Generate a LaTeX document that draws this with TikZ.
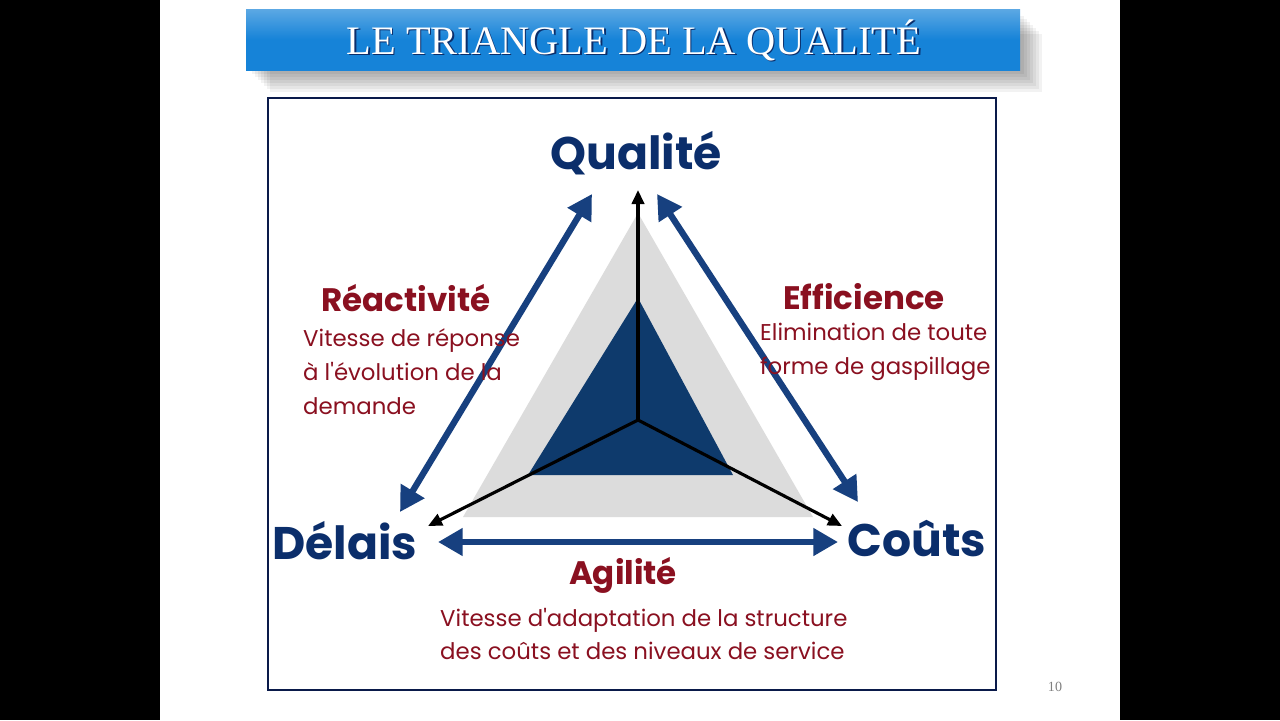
\documentclass[tikz,border=0pt]{standalone}
\usepackage{fontspec}
\setmainfont{Liberation Serif}
\newfontfamily\labelfont{Poppins}
\usetikzlibrary{arrows.meta,shadows}

\definecolor{navy}{HTML}{0B2E6B}
\definecolor{arrowblue}{HTML}{17407F}
\definecolor{wine}{HTML}{8A1020}
\definecolor{banner}{HTML}{1683D8}
\definecolor{lightgrey}{HTML}{DCDCDC}
\definecolor{corenavy}{HTML}{0E3A6C}
\definecolor{framenavy}{HTML}{0A1A4A}

\tikzset{
  corner/.style={font=\labelfont\bfseries\fontsize{26}{26}\selectfont, text=navy},
  head/.style={font=\labelfont\bfseries\fontsize{18.5}{18.5}\selectfont, text=wine},
  body/.style={font=\labelfont\fontsize{13}{19.3}\selectfont, text=wine, align=left},
  side/.style={arrowblue, line width=3.6pt,
    {Triangle[length=14pt,width=15pt]}-{Triangle[length=14pt,width=15pt]}},
  axis/.style={black, line width=1.8pt, -{Triangle[length=8pt,width=7pt]}},
}

\begin{document}
\begin{tikzpicture}[x=0.02cm, y=-0.02cm]
\useasboundingbox (0,0) rectangle (1280,720);
\fill [black] (0,0) rectangle (1280,720);
\fill [white] (160,0) rectangle (1120,720);

% title banner, soft shadow first
\foreach \d in {2,5,...,20}
  \fill [black, opacity=0.05] (250+\d,14+\d) rectangle (1022+\d,72+\d);
\shade [top color=banner!70!white, bottom color=banner, middle color=banner]
  (246,9) rectangle (1020,70);
\node [font=\fontsize{23}{23}\selectfont, text=navy] at (635.5,41.5) {LE TRIANGLE DE LA QUALITÉ};
\node (title) [font=\fontsize{23}{23}\selectfont, text=white] at (634,40) {LE TRIANGLE DE LA QUALITÉ};

% frame
\fill [white] (268,98) rectangle (996,690);
\draw [framenavy, line width=1.3pt] (268,98) rectangle (996,690);

% triangles
\fill [lightgrey] (638,213) -- (463,517) -- (813,517) -- cycle;
\fill [corenavy] (638,298) -- (528,475) -- (733,475) -- cycle;

% axes
\coordinate (o) at (638,420);
\coordinate (top) at (638,190);
\coordinate (bl) at (428,526);
\coordinate (br) at (842,526);
\draw [axis] (o) -- (top);
\draw [axis] (o) -- (bl);
\draw [axis] (o) -- (br);

% corners
\node (qual) [corner] at (636,153) {Qualité};
\node (delais) [corner] at (345,541) {Délais};
\node (couts) [corner] at (917,539) {Coûts};

% sides
\coordinate (l1) at (592,194);
\coordinate (l2) at (400,512);
\coordinate (r1) at (657,194);
\coordinate (r2) at (858,502);
\coordinate (b1) at (438,542);
\coordinate (b2) at (838,542);
\draw [side] (l1) -- (l2);
\draw [side] (r1) -- (r2);
\draw [side] (b1) -- (b2);

% texts
\node (reac) [head] at (406,298) {Réactivité};
\node (reactxt) [body, anchor=west] at (297,372)
  {Vitesse de réponse\\à l'évolution de la\\demande};
\node (effi) [head] at (864,297) {Efficience};
\node (effitxt) [body, anchor=west] at (754,352)
  {Elimination de toute\\forme de gaspillage};
\node (agil) [head] at (623,575) {Agilité};
\node (agiltxt) [body, anchor=west] at (434,634)
  {Vitesse d'adaptation de la structure\\des coûts et des niveaux de service};

\node (page) [text=gray, font=\fontsize{8}{8}\selectfont] at (1055,687) {10};
\end{tikzpicture}
\end{document}
